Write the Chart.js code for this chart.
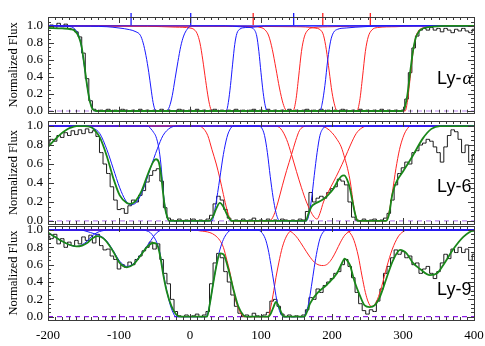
<!DOCTYPE html>
<html>
<head>
<meta charset="utf-8">
<script src="https://cdn.jsdelivr.net/npm/chart.js@4.4.1/dist/chart.umd.min.js"></script>
<style>
  html, body { margin: 0; padding: 0; background: #fff; }
  #wrap { position: relative; width: 485px; height: 346px; }
  canvas { position: absolute; left: 0; }
</style>
</head>
<body>
<div id="wrap">
  <canvas id="lya" width="485" height="120" style="top:0px"></canvas>
  <canvas id="ly6" width="485" height="105" style="top:120px"></canvas>
  <canvas id="ly9" width="485" height="121" style="top:225px"></canvas>
</div>
<script>
// velocity grid of the observed spectra (km/s)
const velocity = [
  -200,-195,-190,-185,-180,-175,-170,-165,-160,-155,
  -150,-145,-140,-135,-130,-125,-120,-115,-110,-105,
  -100,-95,-90,-85,-80,-75,-70,-65,-60,-55,
  -50,-45,-40,-35,-30,-25,-20,-15,-10,-5,
  0,5,10,15,20,25,30,35,40,45,
  50,55,60,65,70,75,80,85,90,95,
  100,105,110,115,120,125,130,135,140,145,
  150,155,160,165,170,175,180,185,190,195,
  200,205,210,215,220,225,230,235,240,245,
  250,255,260,265,270,275,280,285,290,295,
  300,305,310,315,320,325,330,335,340,345,
  350,355,360,365,370,375,380,385,390,395,
  400
];

const lyaFlux = [
  0.98,1.01,0.97,1.03,0.99,1.02,0.97,0.96,0.93,0.87,
  0.68,0.38,0.12,0.02,0.00,0.01,0.00,0.02,0.00,0.01,
  0.00,0.02,0.01,0.00,0.01,0.00,0.02,0.00,0.01,0.00,
  0.01,0.00,0.02,0.00,0.01,0.00,0.00,0.02,0.01,0.00,
  0.01,0.00,0.02,0.00,0.01,0.00,0.01,0.02,0.00,0.01,
  0.00,0.01,0.00,0.02,0.00,0.01,0.00,0.01,0.02,0.00,
  0.01,0.00,0.02,0.00,0.01,0.00,0.01,0.00,0.02,0.00,
  0.01,0.00,0.01,0.02,0.00,0.01,0.00,0.02,0.00,0.01,
  0.00,0.01,0.00,0.02,0.01,0.00,0.01,0.00,0.02,0.00,
  0.01,0.00,0.01,0.00,0.02,0.00,0.01,0.00,0.01,0.00,
  0.01,0.14,0.45,0.74,0.88,0.95,0.97,0.95,0.98,0.95,
  0.97,0.93,0.97,0.95,0.92,0.96,0.94,0.97,0.94,0.92,
  0.96
];

const ly6Flux = [
  0.80,0.86,0.84,0.90,0.88,0.93,0.90,0.95,0.91,0.96,
  0.92,0.97,0.93,0.95,0.89,0.72,0.60,0.50,0.36,0.22,
  0.12,0.13,0.08,0.16,0.22,0.20,0.27,0.32,0.41,0.48,
  0.53,0.55,0.42,0.14,0.03,0.01,0.00,0.02,0.00,0.01,
  0.00,0.02,0.00,0.01,0.00,0.02,0.06,0.18,0.26,0.22,
  0.12,0.03,0.00,0.01,0.00,0.02,0.00,0.01,0.03,0.00,
  0.01,0.00,0.02,0.00,0.01,0.00,0.02,0.01,0.00,0.01,
  0.00,0.02,0.01,0.10,0.30,0.20,0.24,0.26,0.24,0.30,
  0.34,0.36,0.44,0.42,0.38,0.20,0.04,0.01,0.00,0.02,
  0.00,0.01,0.02,0.00,0.01,0.03,0.08,0.22,0.38,0.50,
  0.56,0.62,0.60,0.72,0.74,0.80,0.82,0.86,0.84,0.78,
  0.72,0.62,0.78,0.90,0.96,0.94,0.86,0.72,0.80,0.62,
  0.70
];

const ly9Flux = [
  0.93,0.90,0.95,0.84,0.90,0.80,0.86,0.82,0.88,0.84,
  0.92,0.88,0.94,0.85,0.95,0.82,0.77,0.78,0.70,0.66,
  0.55,0.60,0.57,0.63,0.60,0.66,0.70,0.76,0.80,0.86,
  0.78,0.84,0.66,0.50,0.38,0.20,0.06,0.01,0.00,0.02,
  0.00,0.01,0.03,0.00,0.02,0.06,0.38,0.62,0.73,0.68,
  0.52,0.40,0.25,0.12,0.04,0.00,0.02,0.00,0.04,0.01,
  0.00,0.02,0.05,0.18,0.20,0.12,0.03,0.00,0.02,0.00,
  0.01,0.00,0.02,0.08,0.22,0.20,0.32,0.28,0.36,0.40,
  0.44,0.50,0.52,0.60,0.66,0.58,0.45,0.28,0.15,0.07,
  0.03,0.08,0.06,0.18,0.32,0.50,0.58,0.68,0.77,0.72,
  0.75,0.68,0.70,0.60,0.62,0.50,0.55,0.58,0.50,0.44,
  0.52,0.62,0.72,0.67,0.78,0.74,0.80,0.74,0.78,0.65,
  0.72
];

// Ly-alpha: total fit and components [velocity, flux]
const lyaFit = [[-200,0.975],[-180,0.97],[-168,0.96],[-162,0.94],[-157,0.88],[-153,0.77],[-149,0.55],[-145,0.3],[-141,0.11],[-137,0.02],[-132,0],
  [298,0],[302,0.03],[306,0.18],[310,0.45],[314,0.7],[318,0.86],[323,0.94],[330,0.975],[342,0.99],[360,1],[400,1]];
const lyaBlue1 = [[-200,1],[-172,0.995],[-165,0.98],[-160,0.94],[-155,0.84],[-151,0.65],[-147,0.42],[-143,0.2],[-139,0.06],[-135,0.01],[-132,0],
  [-33,0],[-29,0.05],[-25,0.18],[-21,0.38],[-17,0.58],[-13,0.76],[-9,0.88],[-4,0.96],[2,1],[400,1]];
const lyaBlue2 = [[-200,1],[-140,0.995],[-117,0.99],[-100,0.975],[-85,0.955],[-76,0.93],[-70,0.89],[-66,0.8],[-62,0.65],[-58,0.45],[-55,0.27],[-52,0.1],[-49,0.01],[-47,0],
  [51,0],[54,0.1],[57,0.3],[60,0.55],[63,0.78],[66,0.91],[70,0.96],[78,0.98],[90,0.985],[105,1],[400,1]];
const lyaBlue3 = [[-200,1],[50,1],[70,0.99],[85,0.98],[90,0.96],[94,0.88],[97,0.7],[100,0.45],[103,0.22],[106,0.06],[109,0],
  [183,0],[186,0.08],[190,0.3],[194,0.6],[198,0.82],[202,0.92],[208,0.96],[220,0.975],[245,0.99],[275,1],[400,1]];
const lyaRed1 = [[-200,1],[-60,0.995],[-20,0.985],[0,0.975],[6,0.955],[10,0.91],[14,0.8],[18,0.6],[22,0.36],[26,0.14],[29,0.03],[32,0],
  [145,0],[149,0.12],[153,0.4],[157,0.7],[161,0.87],[166,0.95],[174,0.98],[200,0.99],[250,1],[400,1]];
const lyaRed2 = [[-200,1],[80,0.995],[100,0.98],[106,0.95],[111,0.88],[116,0.72],[121,0.5],[126,0.27],[131,0.09],[135,0.01],[138,0],
  [235,0],[239,0.12],[243,0.4],[247,0.7],[251,0.87],[256,0.95],[264,0.98],[290,0.99],[320,1],[400,1]];
const lyaRed3 = [[-200,1],[150,0.99],[175,0.975],[184,0.95],[188,0.89],[192,0.72],[196,0.47],[200,0.22],[204,0.06],[207,0],
  [303,0],[306,0.1],[310,0.38],[314,0.68],[318,0.87],[323,0.95],[330,0.98],[355,1],[400,1]];
const markBlue = [-83, 1, 146];
const markRed = [89, 187, 254];

// Ly-6
const ly6Fit = [[-200,0.78],[-190,0.86],[-183,0.91],[-176,0.95],[-169,0.98],[-160,1],[-148,1],[-140,0.99],[-136,0.97],[-127,0.88],[-117,0.68],[-108,0.45],[-99,0.27],[-89,0.19],[-84,0.18],[-78,0.2],[-68,0.32],[-59,0.5],[-52,0.62],[-48,0.65],[-44,0.62],[-41,0.5],[-38,0.3],[-35,0.13],[-32,0.04],[-29,0],
  [27,0],[32,0.04],[37,0.13],[42,0.19],[47,0.15],[52,0.07],[57,0.01],[60,0],
  [163,0],[167,0.08],[171,0.15],[178,0.19],[186,0.22],[194,0.27],[202,0.34],[208,0.42],[213,0.47],[217,0.48],[221,0.44],[225,0.35],[229,0.2],[233,0.06],[236,0],
  [276,0],[280,0.06],[285,0.28],[290,0.4],[300,0.52],[314,0.69],[328,0.87],[340,0.97],[352,1],[400,1]];
const ly6Blue1 = [[-200,1],[-150,1],[-137,0.98],[-127,0.92],[-117,0.75],[-108,0.55],[-99,0.35],[-91,0.22],[-84,0.17],[-75,0.2],[-66,0.33],[-56,0.55],[-46,0.76],[-38,0.9],[-28,0.98],[-18,1],[400,1]];
const ly6Blue2 = [[-200,1],[-60,1],[-55,0.97],[-51,0.93],[-48,0.89],[-44,0.77],[-41,0.6],[-38,0.33],[-35,0.14],[-32,0.04],[-29,0],
  [31,0],[35,0.12],[39,0.3],[42,0.45],[47,0.7],[52,0.88],[56,0.96],[61,1],[400,1]];
const ly6Blue3 = [[-200,1],[96,1],[101,0.98],[105,0.9],[109,0.72],[113,0.47],[117,0.25],[121,0.09],[124,0.02],[126,0],
  [164,0],[167,0.05],[171,0.22],[175,0.48],[179,0.72],[183,0.9],[188,0.98],[193,1],[400,1]];
const ly6Red1 = [[-200,1],[10,1],[18,0.98],[25,0.9],[31,0.75],[37,0.6],[42,0.45],[47,0.28],[52,0.12],[56,0.03],[59,0],
  [112,0],[118,0.06],[124,0.2],[130,0.37],[136,0.53],[143,0.7],[149,0.85],[154,0.95],[159,0.99],[165,1],[400,1]];
const ly6Red2 = [[-200,1],[120,1],[128,0.97],[136,0.86],[143,0.7],[150,0.52],[157,0.35],[164,0.2],[170,0.1],[175,0.04],[179,0.02],
  [183,0.08],[188,0.2],[195,0.31],[202,0.41],[210,0.53],[218,0.66],[226,0.8],[234,0.92],[242,0.98],[250,1],[400,1]];
const ly6Red3 = [[-200,1],[185,1],[192,0.98],[200,0.93],[207,0.86],[213,0.78],[218,0.66],[222,0.55],[226,0.4],[229,0.24],[232,0.1],[235,0.02],[238,0],
  [276,0],[280,0.08],[285,0.3],[290,0.55],[295,0.75],[300,0.88],[305,0.96],[311,1],[400,1]];

// Ly-9
const ly9Fit = [[-200,0.97],[-190,0.92],[-180,0.87],[-170,0.83],[-160,0.81],[-152,0.82],[-145,0.85],[-138,0.9],[-131,0.93],[-125,0.92],[-118,0.87],[-108,0.75],[-99,0.62],[-89,0.57],[-80,0.6],[-70,0.7],[-61,0.8],[-52,0.85],[-47,0.84],[-42,0.7],[-38,0.5],[-33,0.3],[-26,0.12],[-19,0.02],[-14,0],
  [24,0],[28,0.15],[33,0.4],[38,0.62],[42,0.73],[47,0.72],[54,0.55],[61,0.32],[68,0.12],[75,0.02],[79,0],
  [110,0],[114,0.04],[118,0.12],[121,0.17],[124,0.14],[128,0.06],[131,0.01],[134,0],
  [161,0],[165,0.06],[169,0.15],[179,0.27],[193,0.37],[207,0.5],[213,0.6],[218,0.67],[222,0.64],[225,0.6],[232,0.4],[239,0.25],[246,0.13],[253,0.11],[260,0.13],[267,0.22],[277,0.45],[286,0.65],[296,0.77],[305,0.73],[314,0.62],[324,0.55],[338,0.48],[348,0.5],[357,0.6],[371,0.78],[385,0.92],[399,0.99],[400,0.99]];
const ly9Blue0 = [[-200,0.97],[-190,0.92],[-180,0.87],[-170,0.83],[-160,0.81],[-152,0.83],[-145,0.87],[-138,0.93],[-131,0.97],[-124,0.99],[-115,1],[400,1]];
const ly9Blue1 = [[-200,1],[-155,1],[-148,0.99],[-140,0.97],[-132,0.95],[-126,0.93],[-118,0.88],[-108,0.76],[-99,0.64],[-89,0.58],[-80,0.61],[-70,0.71],[-61,0.81],[-55,0.88],[-50,0.94],[-45,0.98],[-38,1],[400,1]];
const ly9Blue2 = [[-200,1],[-66,1],[-61,0.99],[-56,0.97],[-51,0.92],[-47,0.86],[-42,0.72],[-38,0.52],[-33,0.31],[-28,0.14],[-24,0.05],[-20,0],
  [22,0],[25,0.04],[28,0.15],[33,0.4],[38,0.63],[42,0.77],[47,0.89],[52,0.96],[58,1],[400,1]];
const ly9Blue3 = [[-200,1],[95,1],[101,0.97],[106,0.9],[110,0.78],[114,0.6],[118,0.4],[122,0.2],[126,0.07],[130,0.01],[133,0],
  [160,0],[163,0.04],[167,0.15],[171,0.35],[175,0.57],[179,0.76],[183,0.9],[188,0.98],[193,1],[400,1]];
const ly9Red1 = [[-200,1],[5,1],[14,0.99],[28,0.97],[35,0.94],[42,0.88],[47,0.8],[52,0.65],[56,0.52],[60,0.36],[64,0.2],[68,0.1],[72,0.03],[77,0],
  [110,0],[114,0.12],[118,0.3],[121,0.45],[125,0.62],[130,0.8],[136,0.93],[142,0.99],[148,1],[400,1]];
const ly9Red2 = [[-200,1],[136,1],[144,0.97],[152,0.9],[160,0.8],[168,0.7],[175,0.63],[182,0.595],[188,0.59],[194,0.61],[200,0.67],[206,0.76],[212,0.86],[218,0.94],[224,0.98],[232,1],[400,1]];
const ly9Red3 = [[-200,1],[218,1],[225,0.97],[231,0.88],[237,0.7],[242,0.48],[247,0.28],[251,0.17],[255,0.12],[259,0.13],[264,0.2],[270,0.35],[277,0.57],[285,0.78],[293,0.92],[300,0.98],[307,1],[400,1]];

const fluxTicks = [0, 0.2, 0.4, 0.6, 0.8, 1.0];
const velocityTicks = [-200, -100, 0, 100, 200, 300, 400];

Chart.defaults.font.family = "'Liberation Serif', 'Times New Roman', serif";
Chart.defaults.color = '#000';

const BLUE = 'rgb(25,25,255)';
const RED = 'rgb(255,35,35)';
const GREEN = 'rgb(25,135,25)';

const pts = arr => arr.map(p => ({x: p[0], y: p[1]}));
const curve = (arr, color, width, order) => ({
  data: pts(arr), borderColor: color, borderWidth: width, pointRadius: 0,
  cubicInterpolationMode: 'monotone', fill: false, order: order
});

// frame with inward ticks on all four sides
const framePlugin = {
  id: 'frame',
  afterDatasetsDraw(chart) {
    const {ctx, chartArea: a, scales: {x, y}} = chart;
    ctx.save();
    ctx.strokeStyle = '#3a3a3a';
    ctx.lineWidth = 1;
    ctx.beginPath();
    for (let i = 0; i <= 60; i++) {
      const v = -200 + i * 10;
      const px = Math.round(x.getPixelForValue(v)) + 0.5;
      const len = v % 100 === 0 ? 6 : 3;
      ctx.moveTo(px, a.bottom); ctx.lineTo(px, a.bottom - len);
      ctx.moveTo(px, a.top); ctx.lineTo(px, a.top + len);
    }
    for (let i = 0; i * 0.05 <= y.max; i++) {
      const py = Math.round(y.getPixelForValue(i * 0.05)) + 0.5;
      const len = i % 4 === 0 ? 6 : 3;
      ctx.moveTo(a.left, py); ctx.lineTo(a.left + len, py);
      ctx.moveTo(a.right, py); ctx.lineTo(a.right - len, py);
    }
    ctx.stroke();
    ctx.strokeRect(Math.round(a.left) + 0.5, Math.round(a.top) + 0.5,
                   Math.round(a.right - a.left), Math.round(a.bottom - a.top));
    ctx.restore();
  }
};

const labelPlugin = {
  id: 'panelLabel',
  afterDatasetsDraw(chart, args, o) {
    const {ctx, scales: {x, y}} = chart;
    const px = x.getPixelForValue(o.x), py = y.getPixelForValue(o.y);
    ctx.save();
    ctx.fillStyle = '#000';
    ctx.textBaseline = 'alphabetic';
    ctx.font = "18px 'Liberation Sans', Arial, sans-serif";
    ctx.fillText(o.text, px, py);
    if (o.greek) {
      const w = ctx.measureText(o.text).width;
      ctx.font = "italic 19px 'Liberation Serif', serif";
      ctx.fillText(o.greek, px + w + 1, py);
    }
    ctx.restore();
  }
};

function panel(id, p) {
  const datasets = [
    { data: pts([[-200, 0], [400, 0]]), borderColor: p.zeroColor, borderWidth: 1.2,
      borderDash: [5, 4], pointRadius: 0, order: 7 },
    { data: velocity.map((v, i) => ({x: v, y: p.flux[i]})), stepped: 'middle',
      borderColor: '#1c1c1c', borderWidth: 1, pointRadius: 0, order: 6 },
    ...p.red.map(c => curve(c, RED, 1, 5)),
    ...p.blue.map(c => curve(c, BLUE, 1, 4)),
    curve(p.fit, GREEN, 1.8, 2)
  ];
  (p.marks || []).forEach(m => datasets.push({
    data: m.xs.map(v => ({x: v, y: 1.08})), showLine: false,
    pointStyle: 'line', pointRotation: 90, pointRadius: 6,
    pointBorderColor: m.color, pointBorderWidth: 1.3, clip: false, order: 0
  }));

  return new Chart(document.getElementById(id), {
    type: 'line',
    data: { datasets },
    options: {
      responsive: false,
      animation: false,
      devicePixelRatio: 1,
      events: [],
      layout: { padding: p.pad },
      plugins: {
        legend: { display: false },
        tooltip: { enabled: false },
        panelLabel: p.label
      },
      scales: {
        x: {
          type: 'linear', min: -200, max: 400, display: p.showX,
          afterBuildTicks: s => { s.ticks = velocityTicks.map(v => ({value: v})); },
          afterFit: s => {
            s.height = p.showX ? 26 : 0;
            s.paddingLeft = 0; s.paddingRight = 0;
          },
          grid: { display: false, drawTicks: false },
          border: { display: false },
          ticks: { padding: 8, font: { size: 13 }, color: '#000', maxRotation: 0, autoSkip: false }
        },
        y: {
          type: 'linear', min: p.yMin, max: p.yMax,
          afterBuildTicks: s => { s.ticks = fluxTicks.map(v => ({value: v})); },
          afterFit: s => { s.width = 48; s.paddingTop = 0; s.paddingBottom = 0; },
          grid: { display: false, drawTicks: false },
          border: { display: false },
          ticks: { padding: 5, font: { size: 13 }, color: '#000', autoSkip: false,
                   callback: v => v.toFixed(1) },
          title: { display: true, text: 'Normalized Flux', font: { size: 12.5 }, color: '#000',
                   padding: { top: 6, bottom: 0 } }
        }
      }
    },
    plugins: [framePlugin, labelPlugin]
  });
}

panel('lya', {
  flux: lyaFlux, fit: lyaFit,
  blue: [lyaBlue1, lyaBlue2, lyaBlue3], red: [lyaRed1, lyaRed2, lyaRed3],
  marks: [{xs: markBlue, color: BLUE}, {xs: markRed, color: RED}],
  zeroColor: 'rgba(165,100,235,0.75)',
  yMin: -0.02, yMax: 1.104, showX: false,
  pad: { top: 17, bottom: 1, left: 0, right: 11 },
  label: { text: 'Ly-', greek: 'α', x: 348, y: 0.32 }
});

panel('ly6', {
  flux: ly6Flux, fit: ly6Fit,
  blue: [ly6Blue1, ly6Blue2, ly6Blue3], red: [ly6Red1, ly6Red2, ly6Red3],
  zeroColor: 'rgba(165,100,235,0.75)',
  yMin: -0.032, yMax: 1.053, showX: false,
  pad: { top: 1, bottom: 1, left: 0, right: 11 },
  label: { text: 'Ly-6', greek: '', x: 348, y: 0.305 }
});

panel('ly9', {
  flux: ly9Flux, fit: ly9Fit,
  blue: [ly9Blue0, ly9Blue1, ly9Blue2, ly9Blue3], red: [ly9Red1, ly9Red2, ly9Red3],
  zeroColor: 'rgb(140,30,230)',
  yMin: -0.038, yMax: 1.046, showX: true,
  pad: { top: 1, bottom: 0, left: 0, right: 11 },
  label: { text: 'Ly-9', greek: '', x: 348, y: 0.25 }
});
</script>
</body>
</html>
